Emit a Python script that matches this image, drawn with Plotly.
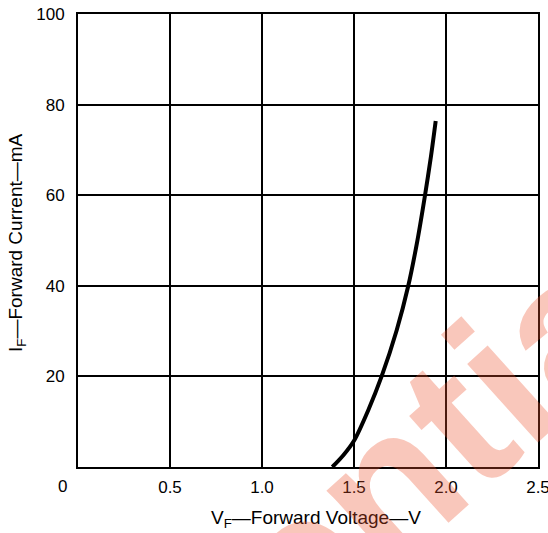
import plotly.graph_objects as go

# Forward voltage (V) vs forward current (mA)
vf = [1.382, 1.442, 1.50, 1.578, 1.650, 1.732, 1.795, 1.845, 1.886, 1.918, 1.944]
i_f = [0.0, 2.6, 5.8, 12.6, 20.0, 30.2, 40.0, 50.1, 60.0, 68.5, 76.4]

x_ticks = [0.5, 1.0, 1.5, 2.0, 2.5]
x_tick_text = ["0.5", "1.0", "1.5", "2.0", "2.5"]
y_ticks = [20, 40, 60, 80, 100]
y_tick_text = ["20", "40", "60", "80", "100"]

font_family = "Liberation Sans, Arial, sans-serif"

W, H = 548, 533
ML, MR, MT, MB = 78, 10, 14, 66
pw, ph = W - ML - MR, H - MT - MB


def px(xs):
    # window pixel x -> paper x
    return (xs - ML) / pw


def py(ys):
    # window pixel y -> paper y
    return (H - MB - ys) / ph


fig = go.Figure()
fig.add_trace(go.Scatter(
    x=vf, y=i_f, mode="lines",
    line=dict(color="black", width=4, shape="spline", smoothing=0.8),
    hoverinfo="skip", showlegend=False,
))

axis_common = dict(
    showgrid=True, gridcolor="black", gridwidth=1.6,
    showline=True, linecolor="black", linewidth=2, mirror=True,
    zeroline=False, ticks="", automargin=False,
    ticklabeloverflow="allow",
    tickfont=dict(size=17),
)

fig.update_layout(
    width=W, height=H,
    margin=dict(l=ML, r=MR, t=MT, b=MB, autoexpand=False),
    paper_bgcolor="white", plot_bgcolor="white",
    font=dict(family=font_family, size=17, color="black"),
    xaxis=dict(range=[0, 2.5], tickvals=x_ticks, ticktext=x_tick_text,
               ticklabelstandoff=4, **axis_common),
    yaxis=dict(range=[0, 100], tickvals=y_ticks, ticktext=y_tick_text,
               ticklabelstandoff=8, **axis_common),
    annotations=[
        dict(text="0", x=px(62), y=py(486), xref="paper", yref="paper",
             xanchor="center", yanchor="middle",
             showarrow=False, font=dict(size=17)),
        dict(text="V<sub>F</sub>—Forward Voltage—V", x=px(316), y=py(519),
             xref="paper", yref="paper", xanchor="center", yanchor="middle",
             showarrow=False, font=dict(size=19)),
        dict(text="I<sub>F</sub>—Forward Current—mA", textangle=-90,
             x=px(17), y=py(243), xref="paper", yref="paper",
             xanchor="center", yanchor="middle",
             showarrow=False, font=dict(size=19)),
        dict(text="<b>Confidential</b>", textangle=-42,
             x=px(216), y=py(638), xref="paper", yref="paper",
             xanchor="center", yanchor="middle", showarrow=False,
             font=dict(size=200, color="rgba(235,80,45,0.32)",
                       family="Liberation Sans, Arial, sans-serif")),
    ],
)

fig.write_html(
    "out.html",
    config={"displayModeBar": False},
    post_script="document.body.style.margin='0';"
                "document.body.style.overflow='hidden';",
)
